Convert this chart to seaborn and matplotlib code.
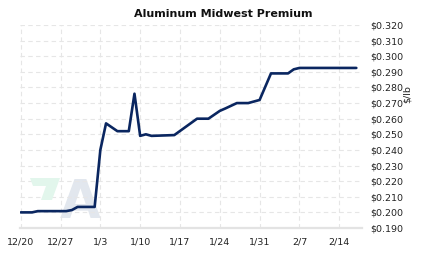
import matplotlib
matplotlib.use("Agg")
import matplotlib.pyplot as plt
import matplotlib.ticker as mticker
from matplotlib.patches import Polygon
import seaborn as sns
import pandas as pd
import numpy as np

# ---- data ----
dates = ["2017-12-20", "2017-12-22", "2017-12-23", "2017-12-28", "2017-12-29",
         "2017-12-30", "2018-01-02", "2018-01-03", "2018-01-04", "2018-01-06",
         "2018-01-08", "2018-01-09", "2018-01-10", "2018-01-11", "2018-01-12",
         "2018-01-16", "2018-01-20", "2018-01-22", "2018-01-24", "2018-01-25",
         "2018-01-27", "2018-01-29", "2018-01-31", "2018-02-02", "2018-02-05",
         "2018-02-06", "2018-02-07", "2018-02-17"]
prices = [0.2000, 0.2000, 0.2008, 0.2008, 0.2015,
          0.2035, 0.2035, 0.2400, 0.2570, 0.2520,
          0.2520, 0.2760, 0.2490, 0.2500, 0.2490,
          0.2495, 0.2600, 0.2600, 0.2650, 0.2666,
          0.2700, 0.2700, 0.2720, 0.2890, 0.2890,
          0.2916, 0.2925, 0.2925]
tick_dates = ["2017-12-20", "2017-12-27", "2018-01-03", "2018-01-10", "2018-01-17",
              "2018-01-24", "2018-01-31", "2018-02-07", "2018-02-14"]
tick_labels = ["12/20", "12/27", "1/3", "1/10", "1/17", "1/24", "1/31", "2/7", "2/14"]
y_ticks = [0.19, 0.20, 0.21, 0.22, 0.23, 0.24, 0.25, 0.26, 0.27, 0.28, 0.29, 0.30, 0.31, 0.32]
title = "Aluminum Midwest Premium"
unit = "$/lb"

df = pd.DataFrame({"date": pd.to_datetime(dates), "price": prices})

sns.set_style("white")
plt.rcParams["font.family"] = ["DejaVu Sans"]

W, H = 423, 257
fig = plt.figure(figsize=(W / 100, H / 100), dpi=100)
ax = fig.add_axes([20 / W, 29 / H, 342 / W, 203 / H])

# faint logo watermark (decoration)
def px(pts):
    return [(x / W, 1 - y / H) for x, y in pts]

fig.patches.append(Polygon(px([(30, 178), (60, 178), (52, 200), (41, 200), (46, 186), (33, 186)]),
                           closed=True, transform=fig.transFigure, facecolor="#e2f6ec",
                           edgecolor="none", zorder=0))
ax.text(0.176, 0.05, "A", transform=ax.transAxes, ha="center", va="baseline",
        fontsize=38, fontweight="bold", color="#e2e7ee", zorder=0)

sns.lineplot(data=df, x="date", y="price", ax=ax, color="#0a2660",
             linewidth=1.9, zorder=3)
ax.patch.set_alpha(0)

tick_pos = pd.to_datetime(tick_dates)
ax.set_xticks(tick_pos)
ax.set_xticklabels(tick_labels)
ax.set_xlim(pd.Timestamp("2017-12-20") - pd.Timedelta(hours=3), pd.Timestamp("2018-02-18"))
ax.set_ylim(0.19, 0.32)
ax.set_yticks(y_ticks)
ax.yaxis.set_major_formatter(mticker.FuncFormatter(lambda v, p: f"${v:.3f}"))
ax.yaxis.tick_right()
ax.set_xlabel("")
ax.set_ylabel("")

ax.grid(True, color="#e6e6e6", linestyle=(0, (4, 3)), linewidth=0.8)
for s in ["top", "left", "right"]:
    ax.spines[s].set_visible(False)
ax.spines["bottom"].set_color("#e3e3e3")
ax.spines["bottom"].set_linewidth(1.6)
ax.tick_params(axis="both", length=0, labelsize=6.8, colors="#222222")
ax.tick_params(axis="y", pad=6)
ax.tick_params(axis="x", pad=7)
for lab in ax.get_yticklabels():
    lab.set_horizontalalignment("left")

fig.text(223 / W, 1 - 14 / H, title, ha="center", va="center",
         fontsize=8, fontweight="bold", color="#111111")
fig.text(407 / W, 1 - 94 / H, unit, ha="center", va="center",
         rotation=90, fontsize=6.8, color="#222222")

fig.savefig("out.png", dpi=100)
